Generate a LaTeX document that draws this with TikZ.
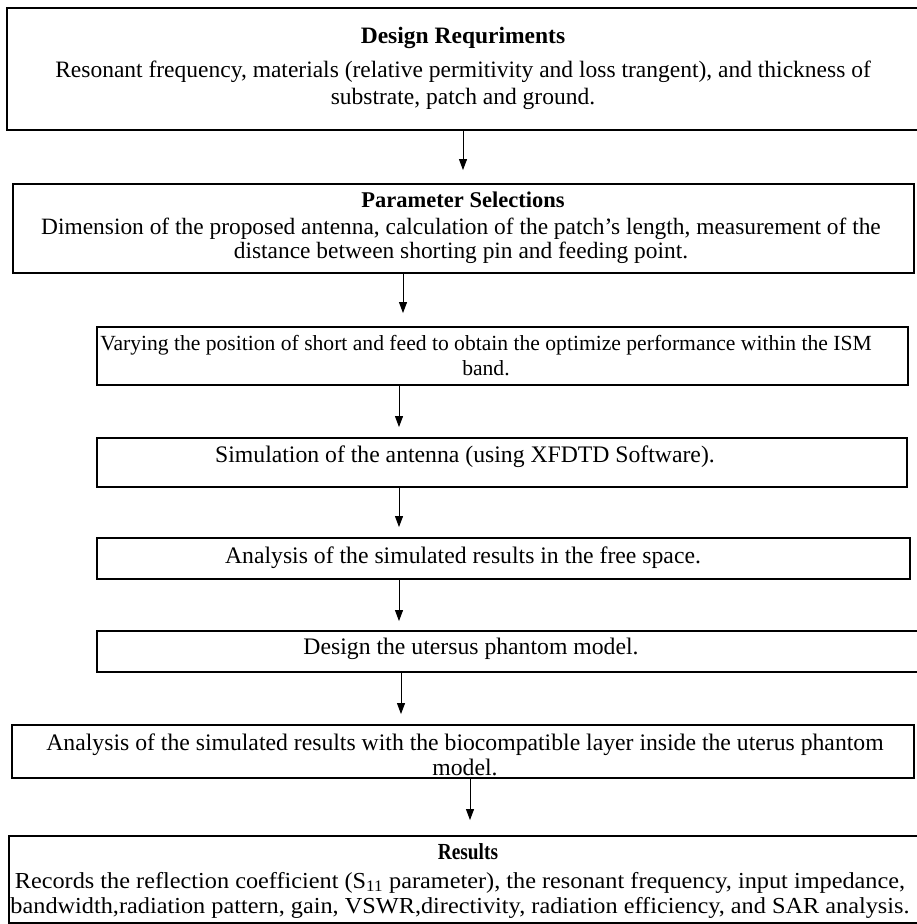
\documentclass[tikz,border=0pt]{standalone}
\usepackage{fontspec}
\setmainfont{Liberation Serif}
\newfontfamily\topfont{Liberation Serif}
\newfontfamily\bodyfont{Liberation Serif}
\newfontfamily\widefont[FakeStretch=1.06]{Liberation Serif}
\newfontfamily\condfont[FakeStretch=0.84]{Liberation Serif}
\usetikzlibrary{arrows.meta}
\begin{document}
\begin{tikzpicture}[x=1pt,y=-1pt,
  box/.style={draw=black, line width=1.9pt, inner sep=0pt},
  toptxt/.style={inner sep=0pt, align=center, font=\topfont\fontsize{23.5}{27}\selectfont},
  bodytxt/.style={inner sep=0pt, align=center, font=\bodyfont\fontsize{23.7}{25}\selectfont},
  headtxt/.style={inner sep=0pt, align=center, font=\condfont\bfseries\fontsize{23}{25}\selectfont},
  arr/.style={line width=1pt, -{Triangle[width=8pt,length=11pt]}}]
\useasboundingbox (0,0) rectangle (916,924);
\fill[white] (0,0) rectangle (916,924);
% boxes
\node[box, minimum width=911pt, minimum height=122pt] (b1) at (462.5,69) {};
\node[box, minimum width=901pt, minimum height=89pt] (b2) at (463.5,228.5) {};
\node[box, minimum width=811pt, minimum height=58pt] (b3) at (502.5,356) {};
\node[box, minimum width=810pt, minimum height=49pt] (b4) at (502,462.5) {};
\node[box, minimum width=813pt, minimum height=41pt] (b5) at (503.5,558.5) {};
\node[box, minimum width=821pt, minimum height=41pt] (b6) at (507.5,651.5) {};
\node[box, minimum width=902pt, minimum height=53pt] (b7) at (463,751.5) {};
\node[box, minimum width=909pt, minimum height=87pt] (b8) at (463.5,879.5) {};
% texts
\node[toptxt, font=\topfont\bfseries\fontsize{23.5}{27}\selectfont] (t1a) at (463,38) {Design Requriments};
\node[toptxt] (t1b) at (463,85) {Resonant frequency, materials (relative permitivity and loss trangent), and thickness of\\substrate, patch and ground.};
\node[headtxt, font=\bodyfont\bfseries\fontsize{22.5}{25}\selectfont] (t2a) at (463,200) {Parameter Selections};
\node[bodytxt, font=\bodyfont\fontsize{23.4}{24}\selectfont] (t2b) at (461,241) {Dimension of the proposed antenna, calculation of the patch’s length, measurement of the\\distance between shorting pin and feeding point.};
\node[bodytxt, font=\bodyfont\fontsize{21.6}{25}\selectfont] (t3) at (486,356) {Varying the position of short and feed to obtain the optimize performance within the ISM\\band.};
\node[bodytxt] (t4) at (465,457) {Simulation of the antenna (using XFDTD Software).};
\node[bodytxt] (t5) at (463,558) {Analysis of the simulated results in the free space.};
\node[bodytxt] (t6) at (471,649) {Design the utersus phantom model.};
\node[bodytxt] (t7) at (465,754.5) {Analysis of the simulated results with the biocompatible layer inside the uterus phantom\\model.};
\node[headtxt] (t8a) at (468,852) {Results};
\node[bodytxt, font=\widefont\fontsize{22.9}{25}\selectfont] (t8b) at (460,895) {Records the reflection coefficient (S\textsubscript{11} parameter), the resonant frequency, input impedance,\\bandwidth,radiation pattern, gain, VSWR,directivity, radiation efficiency, and SAR analysis.};
% arrow columns
\coordinate (c1) at (463,0);
\coordinate (c2) at (403,0);
\coordinate (c3) at (399,0);
\coordinate (c4) at (399,0);
\coordinate (c5) at (399,0);
\coordinate (c6) at (401,0);
\coordinate (c7) at (470,0);
\draw[arr, shorten >=13pt] (b1.south -| c1) -- (b2.north -| c1);
\draw[arr, shorten >=13pt] (b2.south -| c2) -- (b3.north -| c2);
\draw[arr, shorten >=10pt] (b3.south -| c3) -- (b4.north -| c3);
\draw[arr, shorten >=10pt] (b4.south -| c4) -- (b5.north -| c4);
\draw[arr, shorten >=9pt] (b5.south -| c5) -- (b6.north -| c5);
\draw[arr, shorten >=10pt] (b6.south -| c6) -- (b7.north -| c6);
\draw[arr, shorten >=15pt] (b7.south -| c7) -- (b8.north -| c7);
\end{tikzpicture}
\end{document}
